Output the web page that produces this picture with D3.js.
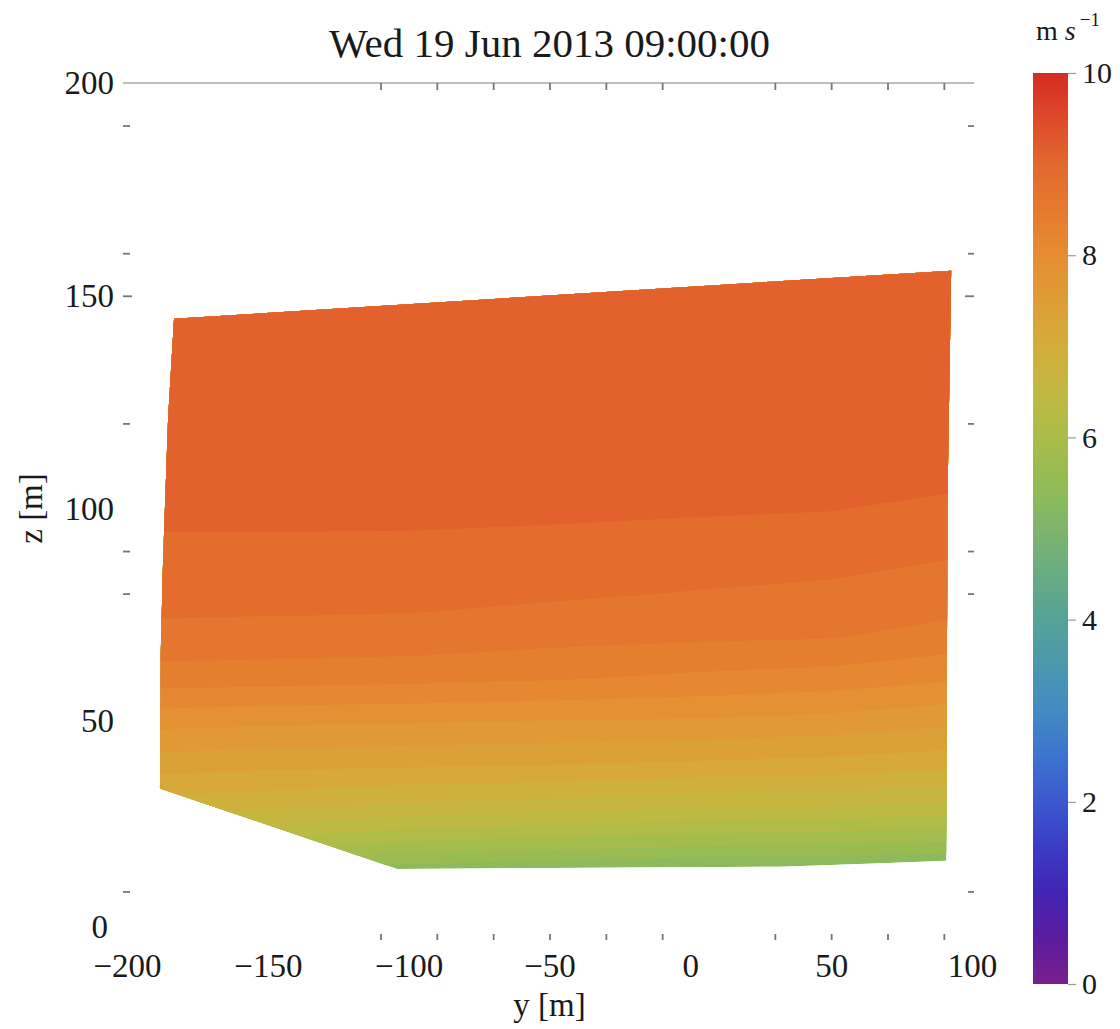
<!DOCTYPE html>
<html>
<head>
<meta charset="utf-8">
<script src="https://cdn.jsdelivr.net/npm/d3@7"></script>
<style>
  body { margin: 0; background: #fff; }
  svg { display: block; }
  text { font-family: "Liberation Serif", "Times New Roman", serif; fill: #1a1a1a; }
</style>
</head>
<body>
<svg id="chart" width="1120" height="1029"></svg>
<script>
// ---- data ---------------------------------------------------------------
const title = "Wed 19 Jun 2013 09:00:00";

// horizontal positions (y, m) and heights (z, m) of the wind-speed grid
const yGrid = [-200, -150, -100, -50, 0, 50, 100];
const zGrid = [10, 20, 30, 40, 50, 60, 70, 80, 90, 100, 110, 120, 130, 140, 150, 160];

// wind speed (m s^-1), one row per height, one column per y position
const windSpeed = [
  [5.10, 5.00, 4.88, 4.78, 4.70, 4.66, 4.65],
  [6.20, 6.05, 5.85, 5.78, 5.70, 5.66, 5.60],
  [6.90, 6.80, 6.70, 6.62, 6.55, 6.50, 6.42],
  [7.38, 7.33, 7.30, 7.27, 7.22, 7.17, 7.09],
  [7.85, 7.80, 7.77, 7.74, 7.72, 7.66, 7.54],
  [8.38, 8.35, 8.32, 8.27, 8.20, 8.14, 8.01],
  [8.69, 8.68, 8.66, 8.59, 8.55, 8.52, 8.39],
  [8.84, 8.83, 8.83, 8.79, 8.74, 8.70, 8.61],
  [8.95, 8.95, 8.945, 8.92, 8.89, 8.85, 8.77],
  [9.06, 9.06, 9.06, 9.05, 9.03, 9.01, 8.93],
  [9.10, 9.11, 9.11, 9.10, 9.08, 9.06, 9.09],
  [9.16, 9.17, 9.16, 9.15, 9.13, 9.11, 9.14],
  [9.22, 9.22, 9.21, 9.20, 9.18, 9.16, 9.19],
  [9.27, 9.27, 9.26, 9.24, 9.22, 9.20, 9.23],
  [9.32, 9.31, 9.30, 9.28, 9.26, 9.24, 9.27],
  [9.36, 9.35, 9.34, 9.32, 9.30, 9.28, 9.31]
];

// contour levels (m s^-1)
const levels = [5.5, 5.75, 6.0, 6.25, 6.5, 6.75, 7.0, 7.25, 7.5, 7.75, 8.0, 8.25, 8.5, 8.75, 9.0];

// outline of the measured region (y, z in m)
const hullY = [-183.3, 92.6, 91.4, 91.1, 90.9, 70.5, 31.8, -104.1, -188.3, -188.0, -187.2, -185.4];
const hullZ = [144.6, 155.9, 106.4, 66.4, 17.2, 16.7, 15.8, 15.3, 34.2, 66.4, 87.6, 121.3];

// axis ticks
const xTickValues = [-200, -150, -100, -50, 0, 50, 100];
const zTickValues = [0, 50, 100, 150, 200];
const yMarks = [-110, -90, -70, -50, -30, -10, 30, 50, 70, 90];
const zMarks = [10, 80, 90, 120, 150, 160, 190];
const barTicks = [0, 2, 4, 6, 8, 10];

// rainbow colour scheme
const rainbowValues = [0, 0.5, 1, 1.5, 2, 2.5, 3, 3.5, 4, 4.5, 5, 5.5, 6, 6.5, 7, 7.5, 8, 8.5, 9, 9.5, 10];
const rainbowColors = ["#7a1f8e", "#5c1c9f", "#4224b4", "#3a3cc5", "#3b58cf", "#3d73cf", "#428ac3",
  "#4a98ae", "#55a298", "#67ac82", "#7fb56b", "#92bc55", "#aabc4a", "#c2b941", "#d3ad3a",
  "#de9d35", "#e58d31", "#e57a2f", "#e3682d", "#dd4a2a", "#d52b22"];

// ---- scales ---------------------------------------------------------------
const svg = d3.select("#chart");
const x = d3.scaleLinear().domain([-200, 100]).range([127, 972]);
const z = d3.scaleLinear().domain([0, 200]).range([934, 83]);
const color = d3.scaleLinear().domain(rainbowValues).range(rainbowColors).interpolate(d3.interpolateRgb);
const cb = d3.scaleLinear().domain([0, 10]).range([984, 73]);

// grid index -> data coordinates (d3.contours places value k at k + 0.5)
const gy = d3.scaleLinear().domain([0.5, yGrid.length - 0.5]).range([yGrid[0], yGrid[yGrid.length - 1]]);
const gz = d3.scaleLinear().domain([0.5, zGrid.length - 0.5]).range([zGrid[0], zGrid[zGrid.length - 1]]);

const toScreen = d3.geoTransform({
  point(cx, cy) { this.stream.point(x(gy(cx)), z(gz(cy))); }
});
const path = d3.geoPath(toScreen);

// ---- filled contours ------------------------------------------------------
const hull = d3.zip(hullY, hullZ);
const hullLine = d3.line().x(d => x(d[0])).y(d => z(d[1]));

const defs = svg.append("defs");
defs.append("clipPath").attr("id", "region")
  .append("path").attr("d", hullLine(hull) + "Z");

const step = levels[1] - levels[0];
const bandValue = i => i < levels.length - 1 ? (levels[i] + levels[i + 1]) / 2 : levels[i] + step / 2;

const field = svg.append("g").attr("clip-path", "url(#region)");
field.append("path")
  .attr("d", hullLine(hull) + "Z")
  .attr("fill", color(levels[0] - step / 2));

const bands = d3.contours()
  .size([yGrid.length, zGrid.length])
  .thresholds(levels)(windSpeed.flat());

field.selectAll("path.band")
  .data(bands)
  .join("path")
  .attr("class", "band")
  .attr("d", path)
  .attr("fill-rule", "evenodd")
  .attr("fill", (d, i) => color(bandValue(i)));

// ---- frame and ticks ------------------------------------------------------
svg.append("line")
  .attr("x1", x(-200) - 4).attr("x2", x(100) + 2)
  .attr("y1", z(200)).attr("y2", z(200))
  .attr("stroke", "#a8a8a8").attr("stroke-width", 1.5);

const tickStyle = g => {
  g.select(".domain").remove();
  g.selectAll(".tick line").attr("stroke", "#777").attr("stroke-width", 1.8);
};

svg.append("g").attr("transform", `translate(0,${z(200)})`)
  .call(d3.axisTop(x).tickValues(yMarks).tickSize(-7).tickFormat(""))
  .call(tickStyle);
svg.append("g").attr("transform", `translate(0,${z(0) + 6})`)
  .call(d3.axisTop(x).tickValues(yMarks).tickSize(6).tickFormat(""))
  .call(tickStyle);
svg.append("g").attr("transform", `translate(${x(-200) - 4},0)`)
  .call(d3.axisLeft(z).tickValues(zMarks).tickSize(0).tickFormat(""))
  .call(g => {
    g.select(".domain").remove();
    g.selectAll(".tick line")
      .attr("x1", 0).attr("x2", d => d === 150 ? 9 : 7)
      .attr("stroke", "#777").attr("stroke-width", 1.8);
  });
svg.append("g").attr("transform", `translate(${x(100) - 4},0)`)
  .call(d3.axisRight(z).tickValues(zMarks).tickSize(0).tickFormat(""))
  .call(g => {
    g.select(".domain").remove();
    g.selectAll(".tick line")
      .attr("x1", d => d === 150 ? -3 : 0).attr("x2", 6)
      .attr("stroke", "#777").attr("stroke-width", 1.8);
  });

// ---- tick labels ---------------------------------------------------------
svg.append("g").attr("transform", `translate(0,${z(0)})`)
  .call(d3.axisBottom(x).tickValues(xTickValues).tickSize(0).tickPadding(20))
  .call(g => {
    g.select(".domain").remove();
    g.selectAll("text").attr("font-size", 33).attr("font-family", null).attr("fill", "#1a1a1a");
  });

svg.append("g").attr("transform", `translate(${x(-200)},0)`)
  .call(d3.axisLeft(z).tickValues(zTickValues).tickSize(0).tickPadding(13))
  .call(g => {
    g.select(".domain").remove();
    g.selectAll("text").attr("font-size", 33).attr("font-family", null).attr("fill", "#1a1a1a")
      .attr("y", d => d === 0 ? -7 : 0)
      .attr("dx", d => d === 0 ? -6 : 0);
  });

// ---- titles --------------------------------------------------------------
svg.append("text")
  .attr("x", (x(-200) + x(100)) / 2).attr("y", 57)
  .attr("text-anchor", "middle").attr("font-size", 41)
  .text(title);

svg.append("text")
  .attr("x", (x(-200) + x(100)) / 2).attr("y", 1016)
  .attr("text-anchor", "middle").attr("font-size", 33)
  .text("y [m]");

svg.append("text")
  .attr("transform", `translate(42,${(z(0) + z(200)) / 2}) rotate(-90)`)
  .attr("text-anchor", "middle").attr("font-size", 33)
  .text("z [m]");

// ---- colour bar ----------------------------------------------------------
const grad = defs.append("linearGradient").attr("id", "rainbow")
  .attr("x1", 0).attr("y1", 1).attr("x2", 0).attr("y2", 0);
grad.selectAll("stop")
  .data(rainbowValues)
  .join("stop")
  .attr("offset", d => d / 10)
  .attr("stop-color", d => color(d));

svg.append("rect")
  .attr("x", 1033).attr("y", cb(10))
  .attr("width", 35).attr("height", cb(0) - cb(10))
  .attr("fill", "url(#rainbow)");

svg.append("g").attr("transform", "translate(1068,0)")
  .call(d3.axisRight(cb).tickValues(barTicks).tickSize(8).tickPadding(6))
  .call(g => {
    g.select(".domain").remove();
    g.selectAll(".tick line").attr("stroke", "#999").attr("stroke-width", 1.2);
    g.selectAll("text").attr("font-size", 30).attr("font-family", null).attr("fill", "#1a1a1a");
  });

const unit = svg.append("text").attr("x", 1036).attr("y", 40).attr("font-size", 28);
unit.append("tspan").text("m ");
unit.append("tspan").attr("font-style", "italic").text("s");
unit.append("tspan").attr("dx", 4).attr("dy", -14).attr("font-size", 19).text("−1");
</script>
</body>
</html>
